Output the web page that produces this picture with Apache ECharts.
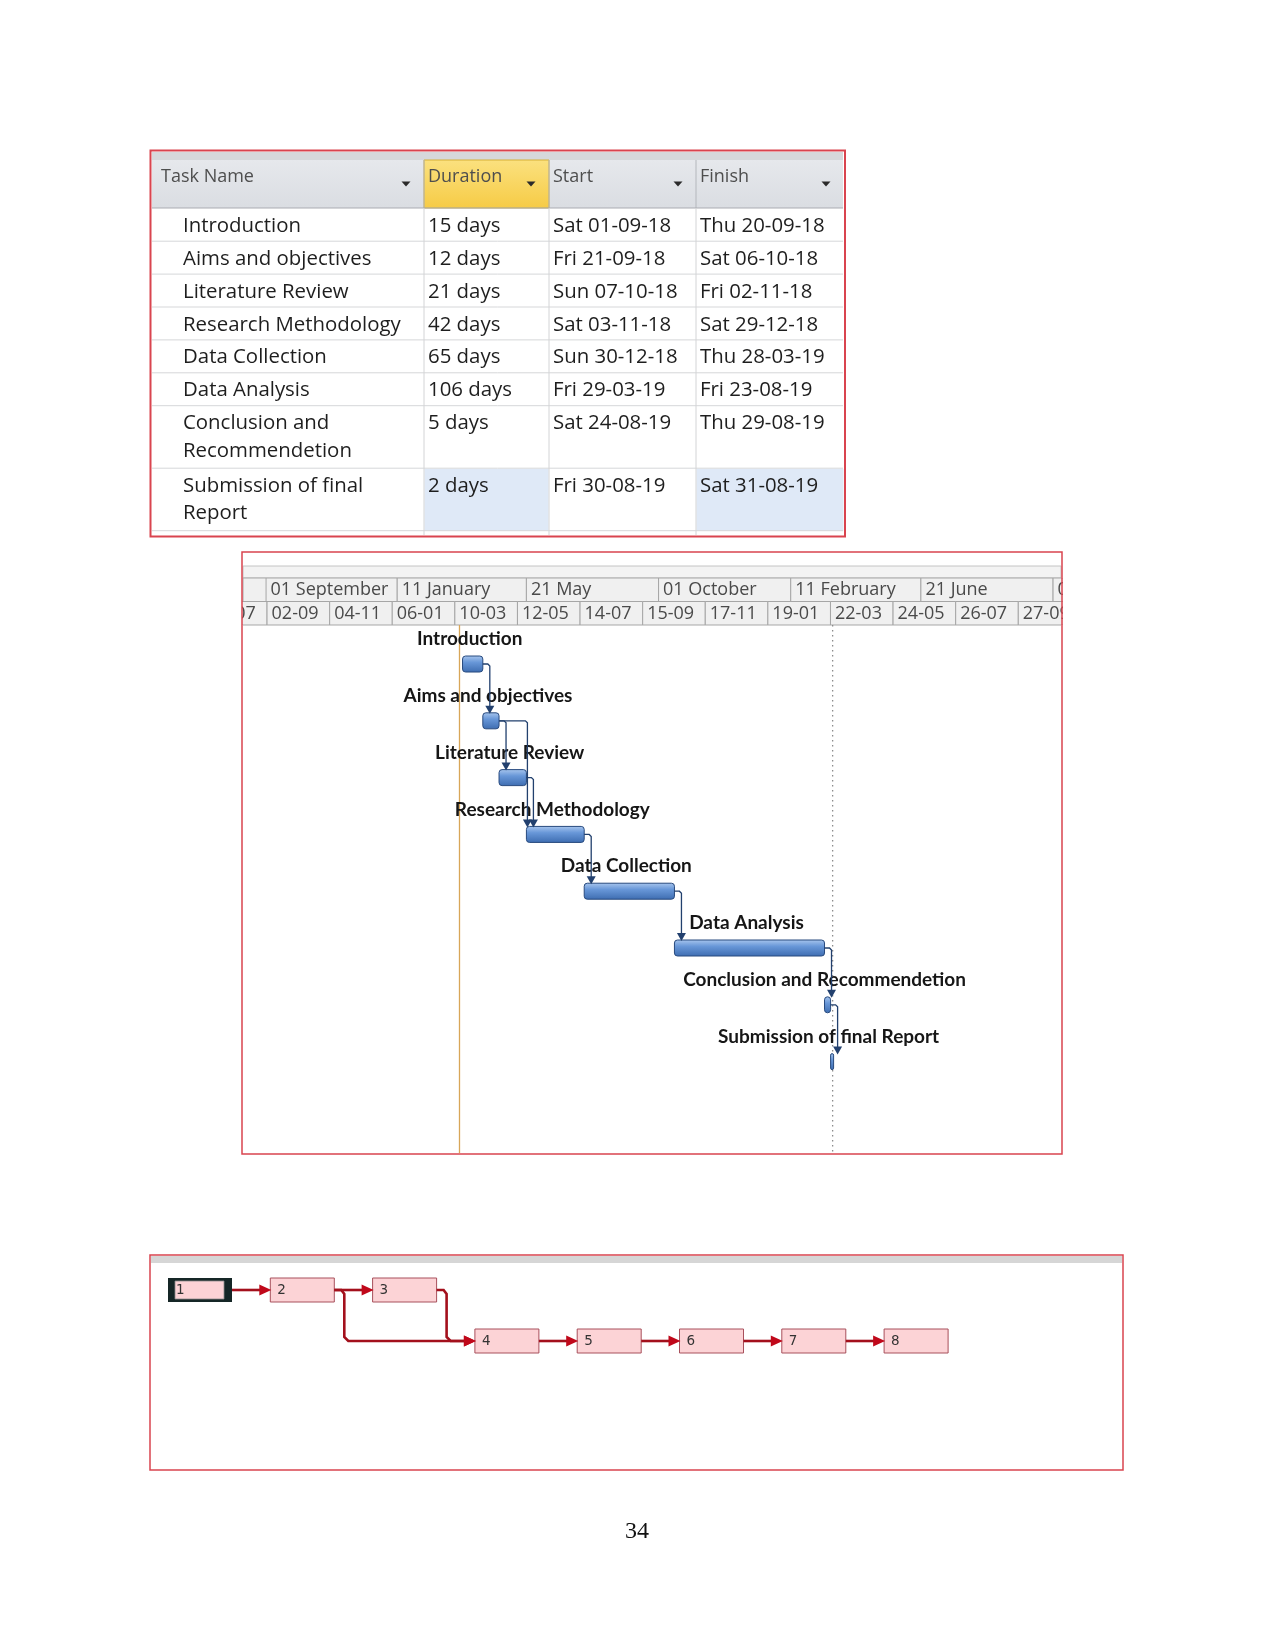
<!DOCTYPE html>
<html><head><meta charset="utf-8">
<script src="https://cdn.jsdelivr.net/npm/echarts@6/dist/echarts.min.js"></script>
<style>html,body{margin:0;padding:0;background:#fff}#main{width:1275px;height:1651px}</style>
</head><body><div id="main"></div>
<script>
// ---------------- data ----------------
const taskNames = ['Introduction','Aims and objectives','Literature Review','Research Methodology','Data Collection','Data Analysis','Conclusion and Recommendetion','Submission of final Report'];
const durations = ['15 days','12 days','21 days','42 days','65 days','106 days','5 days','2 days'];
const startDates = ['Sat 01-09-18','Fri 21-09-18','Sun 07-10-18','Sat 03-11-18','Sun 30-12-18','Fri 29-03-19','Sat 24-08-19','Fri 30-08-19'];
const finishDates = ['Thu 20-09-18','Sat 06-10-18','Fri 02-11-18','Sat 29-12-18','Thu 28-03-19','Fri 23-08-19','Thu 29-08-19','Sat 31-08-19'];
const predecessors = [[],[1],[2],[2,3],[4],[5],[6],[7]];
const tableHeaders = ['Task Name','Duration','Start','Finish'];
const topTierTicks = ['2018-09-01','2019-01-11','2019-05-21','2019-10-01','2020-02-11','2020-06-21','2020-11-01'];
const bottomTierTicks = ['2018-07-01','2018-09-02','2018-11-04','2019-01-06','2019-03-10','2019-05-12','2019-07-14','2019-09-15','2019-11-17','2020-01-19','2020-03-22','2020-05-24','2020-07-26','2020-09-27'];
const markerDates = ['2018-08-29','2019-09-01']; // project start line, status date line
const selectedNode = 1;
const pageNumber = '34';

// ---------------- helpers ----------------
const DAY = 86400000;
const MONTHS = ['January','February','March','April','May','June','July','August','September','October','November','December'];
function parseTable(s){ const p = s.split(' ')[1].split('-'); return Date.UTC(2000+ +p[2], +p[1]-1, +p[0]); }
function parseIso(s){ const p = s.split('-'); return Date.UTC(+p[0], +p[1]-1, +p[2]); }
function pad(n){ return (n<10?'0':'')+n; }
function fmtBottom(ts){ const d = new Date(ts); return pad(d.getUTCDate())+'-'+pad(d.getUTCMonth()+1); }
function fmtTop(ts){ const d = new Date(ts); return pad(d.getUTCDate())+' '+MONTHS[d.getUTCMonth()]; }

const startTs = startDates.map(parseTable);
const endTs = finishDates.map(s => parseTable(s) + DAY);

// header cells
const headerCells = [];
[topTierTicks, bottomTierTicks].forEach((ticks, tier) => {
  const ts = ticks.map(parseIso);
  const step = ts[1]-ts[0];
  ts.forEach((t,i) => headerCells.push({s:t, e:(i<ts.length-1?ts[i+1]:t+step), tier:tier, label: tier===0?fmtTop(t):fmtBottom(t)}));
});

// axis ranges (calibration of the screenshot scale)
const hdrMin = parseIso('2018-09-02') - 25.2*DAY, hdrMax = hdrMin + 826.2*DAY;
const barMin = parseIso('2018-09-01') - 217.5*DAY, barMax = barMin + 809.7*DAY;

// network layout derived from dependencies
const netCol = [], netRow = [];
predecessors.forEach((pr,i) => {
  if (!pr.length){ netCol[i]=0; netRow[i]=0; return; }
  netCol[i] = Math.max(...pr.map(p => netCol[p-1])) + 1;
  netRow[i] = pr.length>1 ? Math.max(...pr.map(p => netRow[p-1])) + 1 : netRow[pr[0]-1];
});
const links = [];
predecessors.forEach((pr,i) => pr.forEach(p => links.push([p-1,i])));

// ---------------- table (graphic) ----------------
const TFONT = '20.4px "Open Sans"';
const ctx = document.createElement('canvas').getContext('2d');
ctx.font = TFONT;
function wrap(text, maxW){
  const words = text.split(' '); const lines=[]; let cur='';
  words.forEach(w => { const t = cur?cur+' '+w:w; if (ctx.measureText(t).width > maxW && cur){ lines.push(cur); cur=w; } else cur=t; });
  lines.push(cur); return lines;
}
const G = [];
const colX = [151,424,549,696,844];
const txtX = [183,428,553,700];
const hdrX = [161,428,553,700];
G.push({type:'rect', shape:{x:150.5,y:150.5,width:694.5,height:386}, style:{fill:'#fff', stroke:'#d9444f', lineWidth:2}, z:1});
G.push({type:'rect', shape:{x:152,y:152,width:691,height:8}, style:{fill:'#d6d8db'}, z:2});
G.push({type:'rect', shape:{x:152,y:160,width:691,height:48}, style:{fill:new echarts.graphic.LinearGradient(0,0,0,1,[{offset:0,color:'#e6e8ec'},{offset:1,color:'#dadde2'}])}, z:2});
G.push({type:'rect', shape:{x:424,y:160,width:125,height:48}, style:{fill:new echarts.graphic.LinearGradient(0,0,0,1,[{offset:0,color:'#fbe17f'},{offset:1,color:'#f6cb45'}]), stroke:'#d8b035', lineWidth:1}, z:3});
for (let c=1;c<4;c++) G.push({type:'line', shape:{x1:colX[c],y1:160,x2:colX[c],y2:208}, style:{stroke:'#b4b7bc', lineWidth:1}, z:3});
G.push({type:'line', shape:{x1:152,y1:208,x2:843,y2:208}, style:{stroke:'#a9acb1', lineWidth:1.2}, z:3});
tableHeaders.forEach((h,c) => {
  G.push({type:'text', style:{text:h, x:hdrX[c], y:177, textVerticalAlign:'middle', font:'18px "Open Sans"', fill:'#4e4e4e'}, z:4});
  const tx = colX[c+1]-18;
  G.push({type:'polygon', shape:{points:[[tx-4.5,181.5],[tx+4.5,181.5],[tx,186.5]]}, style:{fill:'#2a2a2a'}, z:4});
});
let rowTop = 208.3;
taskNames.forEach((name,i) => {
  const lines = wrap(name, 232);
  const h = lines.length*29.6 + 3.3;
  if (i === taskNames.length-1){
    G.push({type:'rect', shape:{x:colX[1]+0.5,y:rowTop+0.5,width:colX[2]-colX[1]-1,height:h-0.5}, style:{fill:'#dfe9f7'}, z:2});
    G.push({type:'rect', shape:{x:colX[3]+0.5,y:rowTop+0.5,width:colX[4]-colX[3]-1,height:h-0.5}, style:{fill:'#dfe9f7'}, z:2});
  }
  const cells = [lines.join('\n'), durations[i], startDates[i], finishDates[i]];
  cells.forEach((t,c) => G.push({type:'text', style:{text:t, x:txtX[c], y:rowTop+4, textVerticalAlign:'top', lineHeight:27.4, font:TFONT, fill:'#1e1e1e'}, z:4}));
  rowTop += h;
  G.push({type:'line', shape:{x1:152,y1:rowTop,x2:843,y2:rowTop}, style:{stroke:'#d6d7d9', lineWidth:1}, z:3});
});
for (let c=1;c<4;c++) G.push({type:'line', shape:{x1:colX[c],y1:208,x2:colX[c],y2:535}, style:{stroke:'#d3d4d6', lineWidth:1}, z:3});

// gantt frame pieces
G.push({type:'rect', shape:{x:243,y:566,width:818,height:12}, style:{fill:'#f3f3f3', stroke:'#c4c4c4', lineWidth:1}, z:1});
G.push({type:'rect', shape:{x:243,y:578,width:818,height:47}, style:{fill:'#f0f0f0', stroke:'#a8a8a8', lineWidth:1}, z:1});
G.push({type:'rect', shape:{x:242,y:552,width:820,height:602}, style:{fill:'none', stroke:'#d9444f', lineWidth:1.5}, z:60});
// network frame
G.push({type:'rect', shape:{x:150,y:1255,width:973,height:215}, style:{fill:'none', stroke:'#d9444f', lineWidth:1.5}, z:60});
G.push({type:'rect', shape:{x:151,y:1256,width:971,height:7}, style:{fill:'#d6d6d6'}, z:1});
// page number
G.push({type:'text', style:{text:pageNumber, x:637, y:1532, textAlign:'center', textVerticalAlign:'middle', font:'24px "Liberation Serif"', fill:'#111'}, z:4});

// ---------------- series ----------------
const barFill = new echarts.graphic.LinearGradient(0,0,0,1,[{offset:0,color:'#aac7ee'},{offset:0.4,color:'#6897d8'},{offset:1,color:'#3d6cb0'}]);

const option = {
  animation:false,
  grid:[
    {left:242, top:578, width:821, height:47},
    {left:242, top:625, width:821, height:528},
    {left:168, top:1290, width:716.1, height:51}
  ],
  xAxis:[
    {type:'time', gridIndex:0, min:hdrMin, max:hdrMax, show:false},
    {type:'time', gridIndex:1, min:barMin, max:barMax, show:false},
    {type:'value', gridIndex:2, min:0, max:7, show:false}
  ],
  yAxis:[
    {type:'value', gridIndex:0, min:0, max:2, inverse:true, show:false},
    {type:'value', gridIndex:1, min:-0.687, max:8.609, inverse:true, show:false},
    {type:'value', gridIndex:2, min:0, max:1, inverse:true, show:false}
  ],
  graphic:{elements:G},
  series:[
    { // timescale header
      type:'custom', xAxisIndex:0, yAxisIndex:0, clip:true, silent:true,
      data: headerCells.map(c => [c.s, c.e, c.tier]),
      encode:{x:[0,1], y:2},
      renderItem:(params, api) => {
        const c = headerCells[params.dataIndex];
        const p0 = api.coord([c.s, c.tier]), p1 = api.coord([c.e, c.tier+1]);
        return {type:'group', children:[
          {type:'rect', shape:{x:p0[0], y:p0[1], width:p1[0]-p0[0], height:p1[1]-p0[1]}, style:{fill:'#f0f0f0', stroke:'#a6a6a6', lineWidth:1}},
          {type:'text', style:{text:c.label, x:p0[0]+4.5, y:(p0[1]+p1[1])/2+0.5, textVerticalAlign:'middle', font:'18px "Open Sans"', fill:'#4a4a4a'}}
        ]};
      }
    },
    { // marker lines
      type:'custom', xAxisIndex:1, yAxisIndex:1, silent:true, z:1,
      data: markerDates.map((d,i) => [parseIso(d), i]),
      encode:{x:0, y:1},
      renderItem:(params, api) => {
        const cs = params.coordSys;
        const p = api.coord([api.value(0), 0]);
        const i = params.dataIndex;
        return {type:'line', shape:{x1:p[0], y1:cs.y, x2:p[0], y2:cs.y+cs.height},
          style: i===0 ? {stroke:'#d8a658', lineWidth:1.3} : {stroke:'#8c8c8c', lineWidth:1.3, lineDash:[1.5,3.5]}};
      }
    },
    { // gantt bars + labels
      type:'custom', xAxisIndex:1, yAxisIndex:1, silent:true, z:3,
      data: taskNames.map((n,i) => [i, startTs[i], endTs[i]]),
      encode:{x:[1,2], y:0},
      renderItem:(params, api) => {
        const i = params.dataIndex;
        const a = api.coord([api.value(1), api.value(0)]), b = api.coord([api.value(2), api.value(0)]);
        const w = Math.max(b[0]-a[0], 3), h = 16;
        return {type:'group', children:[
          {type:'rect', shape:{x:a[0], y:a[1]-h/2, width:w, height:h, r:Math.min(3, w/2)}, style:{fill:barFill, stroke:'#284a7e', lineWidth:1}},
          {type:'text', style:{text:taskNames[i], x:(a[0]+b[0])/2-3, y:a[1]-25, textAlign:'center', textVerticalAlign:'middle', font:'bold 19px Lato', fill:'#161616'}}
        ]};
      }
    },
    { // connectors
      type:'custom', xAxisIndex:1, yAxisIndex:1, silent:true, z:4,
      data: links.map(([p,s]) => [p, endTs[p], s, startTs[s]]),
      encode:{x:[1,3], y:[0,2]},
      renderItem:(params, api) => {
        const a = api.coord([api.value(1), api.value(0)]), b = api.coord([api.value(3), api.value(2)]);
        const vx = Math.max(a[0]+7, b[0]+1);
        const top = b[1]-8;
        return {type:'group', children:[
          {type:'polyline', shape:{points:[[a[0],a[1]],[vx-2,a[1]],[vx,a[1]+2],[vx,top-6]]}, style:{stroke:'#22406e', lineWidth:1.3, fill:'none'}},
          {type:'polygon', shape:{points:[[vx-4.5,top-7],[vx+4.5,top-7],[vx,top+1]]}, style:{fill:'#22406e'}}
        ]};
      }
    },
    { // network nodes
      type:'custom', xAxisIndex:2, yAxisIndex:2, silent:true, z:3, clip:false,
      data: taskNames.map((n,i) => [netCol[i], netRow[i], i+1]),
      encode:{x:0, y:1},
      renderItem:(params, api) => {
        const p = api.coord([api.value(0), api.value(1)]);
        const id = api.value(2);
        const x = p[0], y = p[1]-12, w = 64, h = 24;
        const ch = [];
        if (id === selectedNode){
          ch.push({type:'rect', shape:{x:x, y:y, width:w, height:h}, style:{fill:'#152626'}});
          ch.push({type:'rect', shape:{x:x+7, y:y+3, width:w-15, height:h-6}, style:{fill:'#fcd3d6', stroke:'#8a8a8a', lineWidth:0.8}});
        } else {
          ch.push({type:'rect', shape:{x:x, y:y, width:w, height:h}, style:{fill:'#fcd3d6', stroke:'#a8505c', lineWidth:1}});
        }
        ch.push({type:'text', style:{text:String(id), x:x+(id===selectedNode?8:7), y:p[1]+0.5, textVerticalAlign:'middle', font:'13.5px "DejaVu Sans"', fill:'#333'}});
        return {type:'group', children:ch};
      }
    },
    { // network links
      type:'custom', xAxisIndex:2, yAxisIndex:2, silent:true, z:4, clip:false,
      data: links.map(([p,s]) => [netCol[p], netRow[p], netCol[s], netRow[s]]),
      encode:{x:[0,2], y:[1,3]},
      renderItem:(params, api) => {
        const a = api.coord([api.value(0), api.value(1)]), b = api.coord([api.value(2), api.value(3)]);
        const sx = a[0]+64, tip = b[0];
        let pts;
        if (Math.abs(a[1]-b[1]) < 1) pts = [[sx,a[1]],[tip-9,b[1]]];
        else { const vx = sx+10; pts = [[sx,a[1]],[vx-3,a[1]],[vx,a[1]+4],[vx,b[1]-4],[vx+4,b[1]],[tip-9,b[1]]]; }
        return {type:'group', children:[
          {type:'polyline', shape:{points:pts}, style:{stroke:'#a3101c', lineWidth:2.6, fill:'none'}},
          {type:'polygon', shape:{points:[[tip-11,b[1]-5.5],[tip-11,b[1]+5.5],[tip+1,b[1]]]}, style:{fill:'#c0081a'}}
        ]};
      }
    }
  ]
};
const chart = echarts.init(document.getElementById('main'), null, {renderer:'canvas', width:1275, height:1651});
chart.setOption(option);
</script></body></html>
